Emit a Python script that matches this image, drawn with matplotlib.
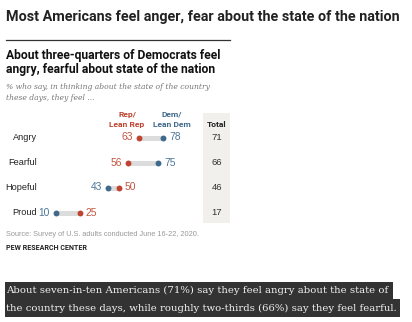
#!/usr/bin/env python3
"""pew_emotions.py - dot plot of feelings about the state of the nation"""

import matplotlib

matplotlib.use("Agg")
import matplotlib.pyplot as plt
from matplotlib.patches import Rectangle
from matplotlib.transforms import blended_transform_factory

W, H = 412, 322

feelings = ["Angry", "Fearful", "Hopeful", "Proud"]
rep_values = [63, 56, 50, 25]
dem_values = [78, 75, 43, 10]
totals = [71, 66, 46, 17]

RED = "#bf4330"
BLUE = "#3f6a8c"
RED_TXT = "#c4543f"
BLUE_TXT = "#4d7698"
DARK = "#222222"


def fx(x):
    return x / W


def fy(y):
    return 1 - y / H


def text(fig, x, y, s, **kw):
    kw.setdefault("va", "center")
    kw.setdefault("color", DARK)
    return fig.text(fx(x), fy(y), s, **kw)


def fit(fig, t, width):
    # scale the font so the text spans `width` pixels
    r = fig.canvas.get_renderer()
    w = t.get_window_extent(r).width
    t.set_fontsize(t.get_fontsize() * width / w)
    return t.get_fontsize()


def plot(fig):
    # headline and chart title block
    t = text(fig, 6, 17, "Most Americans feel anger, fear about the state of the nation",
             fontsize=10, fontweight="bold", family="Roboto")
    fit(fig, t, 397)
    fig.add_artist(plt.Line2D([fx(6), fx(230)], [fy(39.5), fy(39.5)],
                              color="#333333", lw=0.9, transform=fig.transFigure))
    t1 = text(fig, 6, 55, "About three-quarters of Democrats feel",
              fontsize=9, fontweight="bold", family="Roboto", color="#111111")
    size = fit(fig, t1, 214)
    text(fig, 6, 69, "angry, fearful about state of the nation",
         fontsize=size, fontweight="bold", family="Roboto", color="#111111")
    t2 = text(fig, 6, 87, "% who say, in thinking about the state of the country",
              fontsize=5.6, style="italic", family="DejaVu Serif", color="#777777")
    size = fit(fig, t2, 206)
    text(fig, 6, 98, "these days, they feel ...",
         fontsize=size, style="italic", family="DejaVu Serif", color="#777777")

    # shaded total column
    fig.add_artist(Rectangle((fx(203), fy(223)), fx(27), 110 / H,
                             transform=fig.transFigure, color="#f1f0ec", lw=0, zorder=0))

    # column headers
    hdr = dict(fontsize=6.3, fontweight="bold", family="Roboto", ha="center")
    t3 = text(fig, 127, 124, "Lean Rep", color=RED, **hdr)
    hdr["fontsize"] = fit(fig, t3, 35)
    text(fig, 127, 114, "Rep/", color=RED, **hdr)
    text(fig, 172, 114, "Dem/", color=BLUE, **hdr)
    text(fig, 172, 124, "Lean Dem", color=BLUE, **hdr)
    text(fig, 217, 124, "Total", color=DARK, **hdr)

    # dot plot axes: x=0 at 40.3px, x=100 at 197.7px
    x0, x100 = 40.3, 197.7
    ax = fig.add_axes([fx(x0), fy(225), (x100 - x0) / W, 100 / H])
    ax.set_xlim(0, 100)
    ax.set_ylim(3.5, -0.5)
    ax.axis("off")
    ax.patch.set_alpha(0)

    rows = list(range(len(feelings)))
    for i in rows:
        ax.plot([rep_values[i], dem_values[i]], [i, i], color="#dcdcdc", lw=3.6,
                solid_capstyle="butt", zorder=1)
    ax.scatter(rep_values, rows, s=18, color=RED, zorder=3, lw=0)
    ax.scatter(dem_values, rows, s=18, color=BLUE, zorder=3, lw=0)

    lbl = dict(fontsize=7.4, family="Liberation Sans", va="center",
               textcoords="offset pixels")
    for i in rows:
        r, d = rep_values[i], dem_values[i]
        lo, hi = (r, d) if r < d else (d, r)
        lo_c = RED_TXT if r < d else BLUE_TXT
        hi_c = BLUE_TXT if r < d else RED_TXT
        ax.annotate(str(lo), (lo, i), xytext=(-6, 0), ha="right", color=lo_c, **lbl)
        ax.annotate(str(hi), (hi, i), xytext=(6, 0), ha="left", color=hi_c, **lbl)

    cat_tr = blended_transform_factory(fig.transFigure, ax.transData)
    for i, name in enumerate(feelings):
        ax.text(fx(37), i, name, transform=cat_tr, ha="right", va="center",
                fontsize=6.6, family="Liberation Sans", color=DARK)
        ax.text(fx(217), i, str(totals[i]), transform=cat_tr, ha="center",
                va="center", fontsize=6.8, family="Liberation Sans", color="#333333")

    # source and credit
    t4 = text(fig, 6, 234, "Source: Survey of U.S. adults conducted June 16-22, 2020.",
              fontsize=5.2, family="Liberation Sans", color="#999999")
    fit(fig, t4, 194)
    t5 = text(fig, 6, 248, "PEW RESEARCH CENTER",
              fontsize=5.2, fontweight="bold", family="Roboto", color="#222222")
    fit(fig, t5, 82)

    # highlighted paragraph below the chart
    fig.add_artist(Rectangle((fx(5), fy(299)), fx(388), 17 / H,
                             transform=fig.transFigure, color="#333333", lw=0))
    fig.add_artist(Rectangle((fx(5), fy(317)), fx(395), 18 / H,
                             transform=fig.transFigure, color="#333333", lw=0))
    para = dict(fontsize=8.6, family="DejaVu Serif", color="#f2f2f2")
    p1 = text(fig, 6, 290, "About seven-in-ten Americans (71%) say they feel angry about the state of", **para)
    para["fontsize"] = fit(fig, p1, 384)
    text(fig, 6, 308, "the country these days, while roughly two-thirds (66%) say they feel fearful.", **para)


def main():
    fig = plt.figure(figsize=(W / 100, H / 100), dpi=100)
    plot(fig)
    fig.savefig("out.png", dpi=100, facecolor="white")


if __name__ == "__main__":
    main()
